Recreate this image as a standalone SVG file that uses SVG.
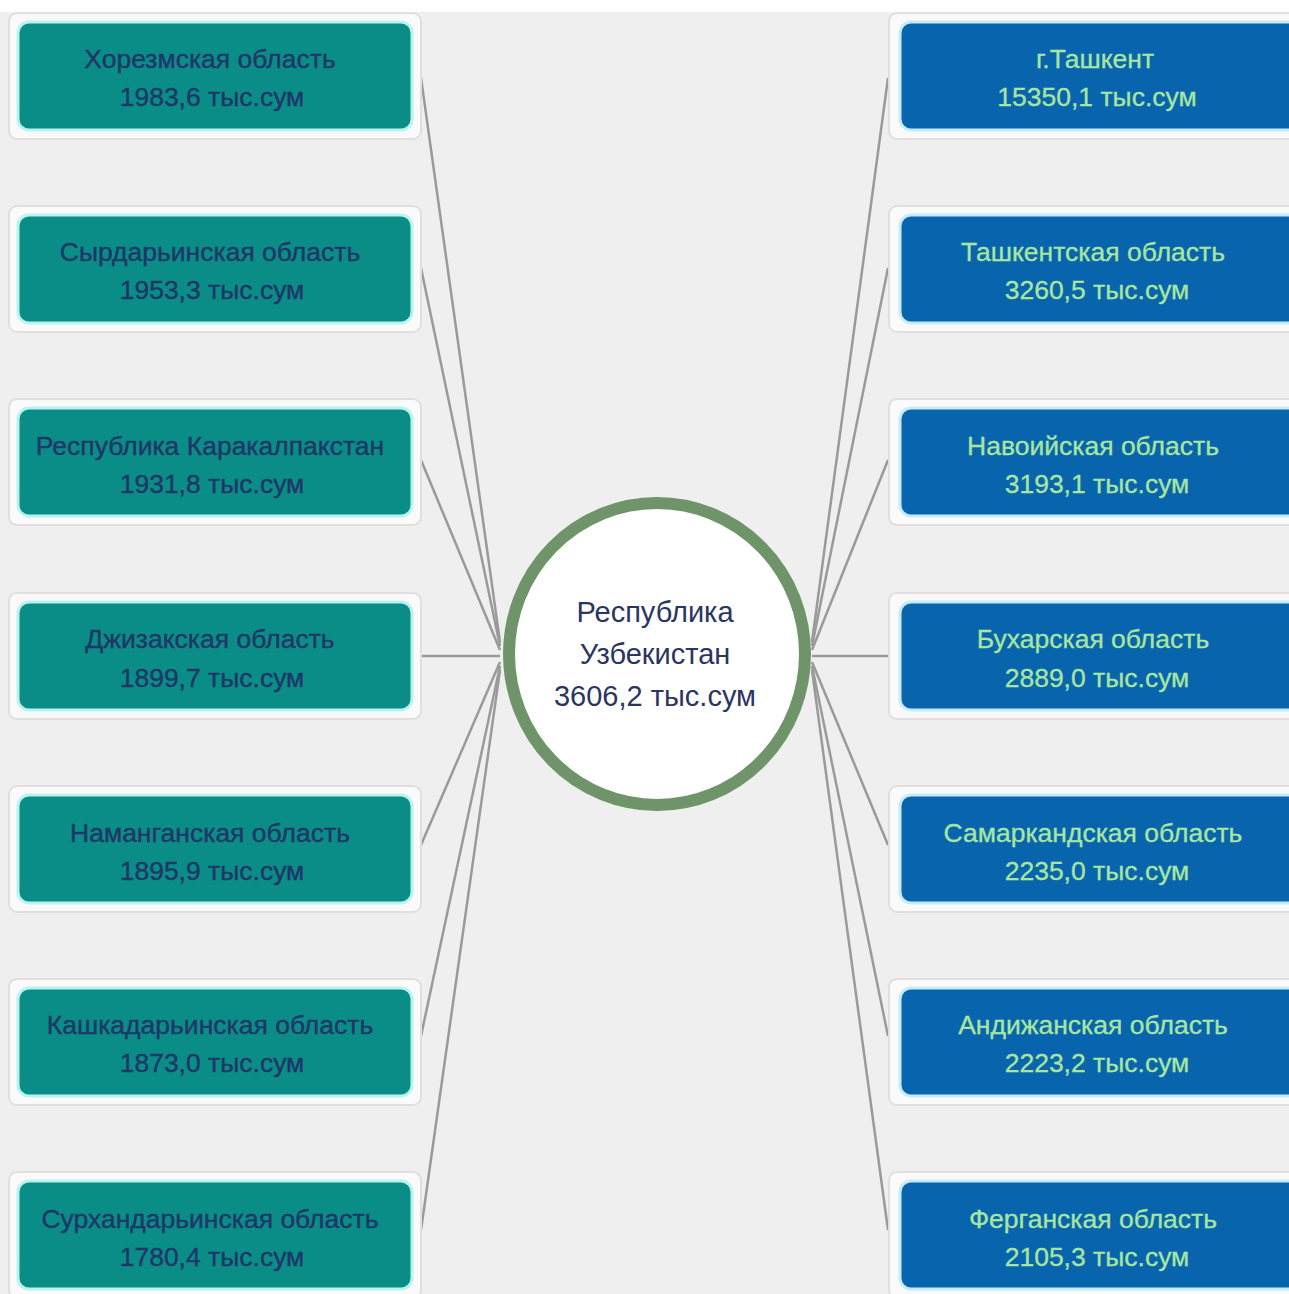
<svg xmlns="http://www.w3.org/2000/svg" width="1289" height="1294" viewBox="0 0 1289 1294">
<style>
.frame{fill:#fbfafa;stroke:#e2dede;stroke-width:2}
.lbox{fill:#0b8d87;stroke:#b9f3f0;stroke-width:3}
.rbox{fill:#0864ad;stroke:#c4ecfb;stroke-width:3}
.lt{font-family:"Liberation Sans",Arial,sans-serif;font-size:26.5px;fill:#1e3768;stroke:#1e3768;stroke-width:0.4;text-anchor:middle}
.rt{font-family:"Liberation Sans",Arial,sans-serif;font-size:26.5px;fill:#a8e6a0;stroke:#a8e6a0;stroke-width:0.3;text-anchor:middle}
.ct{font-family:"Liberation Sans",Arial,sans-serif;font-size:29px;fill:#2b3561;text-anchor:middle}
.con{stroke:#9a9a9a;stroke-width:2.5;fill:none}
</style>
<rect width="1289" height="1294" fill="#efefef"/>
<rect width="1289" height="12" fill="#ffffff"/>
<g id="connectors">
<line class="con" x1="421" y1="78" x2="500" y2="642"/>
<line class="con" x1="421" y1="268" x2="500" y2="646"/>
<line class="con" x1="421" y1="460" x2="500" y2="650"/>
<line class="con" x1="421" y1="656" x2="500" y2="656" stroke-width="4"/>
<line class="con" x1="421" y1="845" x2="500" y2="662"/>
<line class="con" x1="421" y1="1036" x2="500" y2="666"/>
<line class="con" x1="421" y1="1230" x2="500" y2="670"/>
<line class="con" x1="888" y1="78" x2="812" y2="642"/>
<line class="con" x1="888" y1="268" x2="812" y2="646"/>
<line class="con" x1="888" y1="460" x2="812" y2="650"/>
<line class="con" x1="888" y1="656" x2="812" y2="656" stroke-width="4"/>
<line class="con" x1="888" y1="845" x2="812" y2="662"/>
<line class="con" x1="888" y1="1036" x2="812" y2="666"/>
<line class="con" x1="888" y1="1230" x2="812" y2="670"/>
</g>
<g id="center">
<ellipse cx="657" cy="654" rx="148" ry="151" fill="#ffffff" stroke="#6f946a" stroke-width="12"/>
<text class="ct" x="655" y="622">Республика</text>
<text class="ct" x="655" y="664">Узбекистан</text>
<text class="ct" x="655" y="706">3606,2 тыс.сум</text>
</g>
<g id="n-khorezm"><rect class="frame" x="9" y="13" width="412" height="126" rx="8"/><rect class="lbox" x="18" y="22" width="394" height="108" rx="11"/><text class="lt" x="210" y="68">Хорезмская область</text><text class="lt" x="212" y="106">1983,6 тыс.сум</text></g>
<g id="n-syrdarya"><rect class="frame" x="9" y="206" width="412" height="126" rx="8"/><rect class="lbox" x="18" y="215" width="394" height="108" rx="11"/><text class="lt" x="210" y="261">Сырдарьинская область</text><text class="lt" x="212" y="299">1953,3 тыс.сум</text></g>
<g id="n-karakalpak"><rect class="frame" x="9" y="399" width="412" height="126" rx="8"/><rect class="lbox" x="18" y="408" width="394" height="108" rx="11"/><text class="lt" x="210" y="455">Республика Каракалпакстан</text><text class="lt" x="212" y="493">1931,8 тыс.сум</text></g>
<g id="n-jizzakh"><rect class="frame" x="9" y="593" width="412" height="126" rx="8"/><rect class="lbox" x="18" y="602" width="394" height="108" rx="11"/><text class="lt" x="210" y="648">Джизакская область</text><text class="lt" x="212" y="687">1899,7 тыс.сум</text></g>
<g id="n-namangan"><rect class="frame" x="9" y="786" width="412" height="126" rx="8"/><rect class="lbox" x="18" y="795" width="394" height="108" rx="11"/><text class="lt" x="210" y="842">Наманганская область</text><text class="lt" x="212" y="880">1895,9 тыс.сум</text></g>
<g id="n-kashkadarya"><rect class="frame" x="9" y="979" width="412" height="126" rx="8"/><rect class="lbox" x="18" y="988" width="394" height="108" rx="11"/><text class="lt" x="210" y="1034">Кашкадарьинская область</text><text class="lt" x="212" y="1072">1873,0 тыс.сум</text></g>
<g id="n-surkhandarya"><rect class="frame" x="9" y="1172" width="412" height="126" rx="8"/><rect class="lbox" x="18" y="1181" width="394" height="108" rx="11"/><text class="lt" x="210" y="1228">Сурхандарьинская область</text><text class="lt" x="212" y="1266">1780,4 тыс.сум</text></g>
<g id="n-tashkent-city"><rect class="frame" x="889" y="13" width="412" height="126" rx="8"/><rect class="rbox" x="900" y="22" width="400" height="108" rx="11"/><text class="rt" x="1095" y="68">г.Ташкент</text><text class="rt" x="1097" y="106">15350,1 тыс.сум</text></g>
<g id="n-tashkent-reg"><rect class="frame" x="889" y="206" width="412" height="126" rx="8"/><rect class="rbox" x="900" y="215" width="400" height="108" rx="11"/><text class="rt" x="1093" y="261">Ташкентская область</text><text class="rt" x="1097" y="299">3260,5 тыс.сум</text></g>
<g id="n-navoi"><rect class="frame" x="889" y="399" width="412" height="126" rx="8"/><rect class="rbox" x="900" y="408" width="400" height="108" rx="11"/><text class="rt" x="1093" y="455">Навоийская область</text><text class="rt" x="1097" y="493">3193,1 тыс.сум</text></g>
<g id="n-bukhara"><rect class="frame" x="889" y="593" width="412" height="126" rx="8"/><rect class="rbox" x="900" y="602" width="400" height="108" rx="11"/><text class="rt" x="1093" y="648">Бухарская область</text><text class="rt" x="1097" y="687">2889,0 тыс.сум</text></g>
<g id="n-samarkand"><rect class="frame" x="889" y="786" width="412" height="126" rx="8"/><rect class="rbox" x="900" y="795" width="400" height="108" rx="11"/><text class="rt" x="1093" y="842">Самаркандская область</text><text class="rt" x="1097" y="880">2235,0 тыс.сум</text></g>
<g id="n-andijan"><rect class="frame" x="889" y="979" width="412" height="126" rx="8"/><rect class="rbox" x="900" y="988" width="400" height="108" rx="11"/><text class="rt" x="1093" y="1034">Андижанская область</text><text class="rt" x="1097" y="1072">2223,2 тыс.сум</text></g>
<g id="n-fergana"><rect class="frame" x="889" y="1172" width="412" height="126" rx="8"/><rect class="rbox" x="900" y="1181" width="400" height="108" rx="11"/><text class="rt" x="1093" y="1228">Ферганская область</text><text class="rt" x="1097" y="1266">2105,3 тыс.сум</text></g>
</svg>
